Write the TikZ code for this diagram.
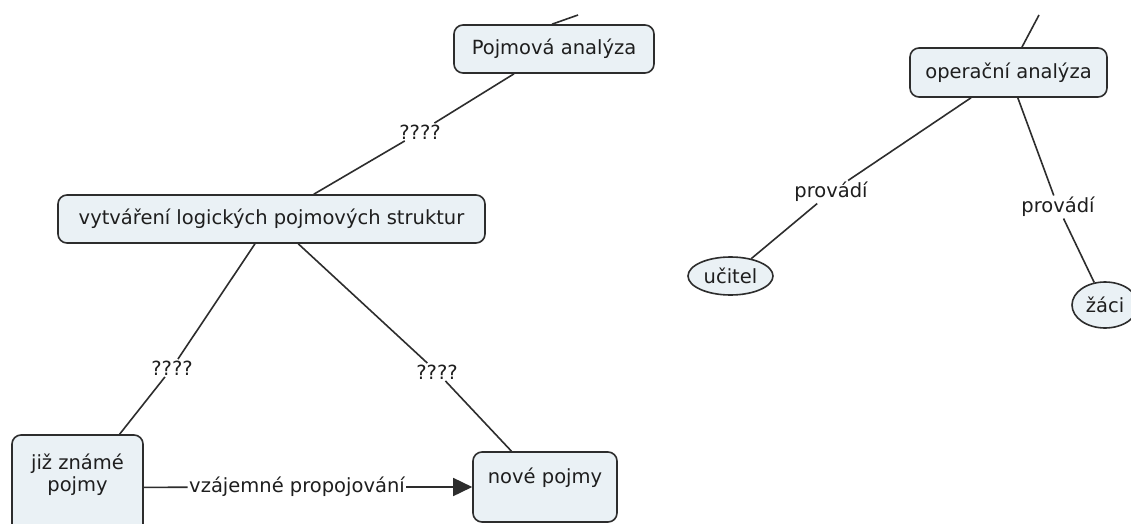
\documentclass[tikz,border=0pt]{standalone}
\usepackage{fontspec}
\setmainfont{DejaVu Sans}
\usetikzlibrary{arrows.meta,shapes.geometric}
\definecolor{conceptfill}{RGB}{234,241,245}
\definecolor{conceptline}{RGB}{45,45,45}
\definecolor{inktext}{RGB}{30,30,30}
\tikzset{
  concept/.style={draw=conceptline, fill=conceptfill, line width=1.6pt,
    rounded corners=9pt, inner sep=0pt, text=inktext,
    font=\fontsize{19.5}{22}\selectfont},
  oval/.style={draw=conceptline, fill=conceptfill, line width=1.6pt,
    ellipse, inner sep=0pt, text=inktext,
    font=\fontsize{19.5}{22}\selectfont},
  linkword/.style={inner sep=1.5pt, text=inktext,
    font=\fontsize{19.5}{22}\selectfont},
  link/.style={draw=conceptline, line width=1.6pt}
}
\begin{document}
\begin{tikzpicture}[x=1pt, y=-1pt]
  \useasboundingbox (0,0) rectangle (1131,524);
  \clip (0,0) rectangle (1131,524);
  \fill[white] (0,0) rectangle (1131,524);

  % concepts, left map
  \node[concept, minimum width=200, minimum height=48] (pa) at (554,49) {Pojmová analýza};
  \node[concept, minimum width=427, minimum height=48] (vy) at (271.5,219) {vytváření logických pojmových struktur};
  \node[concept, minimum width=131, text height=34pt, text depth=71pt, anchor=base]
    (jz) at (77.5,469) {\begin{tabular}[t]{@{}c@{}}již známé\\pojmy\end{tabular}};
  \node[concept, minimum width=144, text height=31pt, text depth=39pt, anchor=base]
    (nv) at (545,483) {nové pojmy};

  % concepts, right map
  \node[concept, minimum width=197, minimum height=49] (op) at (1008.5,72.5) {operační analýza};
  \node[oval, minimum width=85, minimum height=38] (uc) at (730.5,276) {učitel};
  \node[oval, minimum width=66, minimum height=46] (za) at (1105,305) {žáci};

  % linking phrases
  \node[linkword] (l1) at (420,132) {????};
  \node[linkword] (l2) at (172,368) {????};
  \node[linkword] (l3) at (437,372) {????};
  \node[linkword] (l6) at (297,487) {vzájemné propojování};
  \node[linkword] (l4) at (831,192) {provádí};
  \node[linkword] (l5) at (1058,207) {provádí};

  % links leaving the upper concepts
  \coordinate (paup) at (578,15);
  \coordinate (opup) at (1039,15);
  \draw[link] ([xshift=-2pt]pa.north) -- (paup);
  \draw[link] (op) -- (opup);

  % links
  \draw[link] (pa) -- (l1);
  \draw[link] (l1) -- (vy);
  \draw[link] (vy) -- (l2);
  \draw[link] (l2) -- (jz);
  \draw[link] (vy) -- (l3);
  \draw[link] (l3) -- (nv);
  \draw[link] (jz) -- (l6);
  \draw[link, -{Triangle[length=19pt, width=18pt]}] (l6) -- (nv);
  \draw[link] (op) -- (l4);
  \draw[link] (l4) -- (uc);
  \draw[link] (op) -- (l5);
  \draw[link] (l5) -- (za);
\end{tikzpicture}
\end{document}
